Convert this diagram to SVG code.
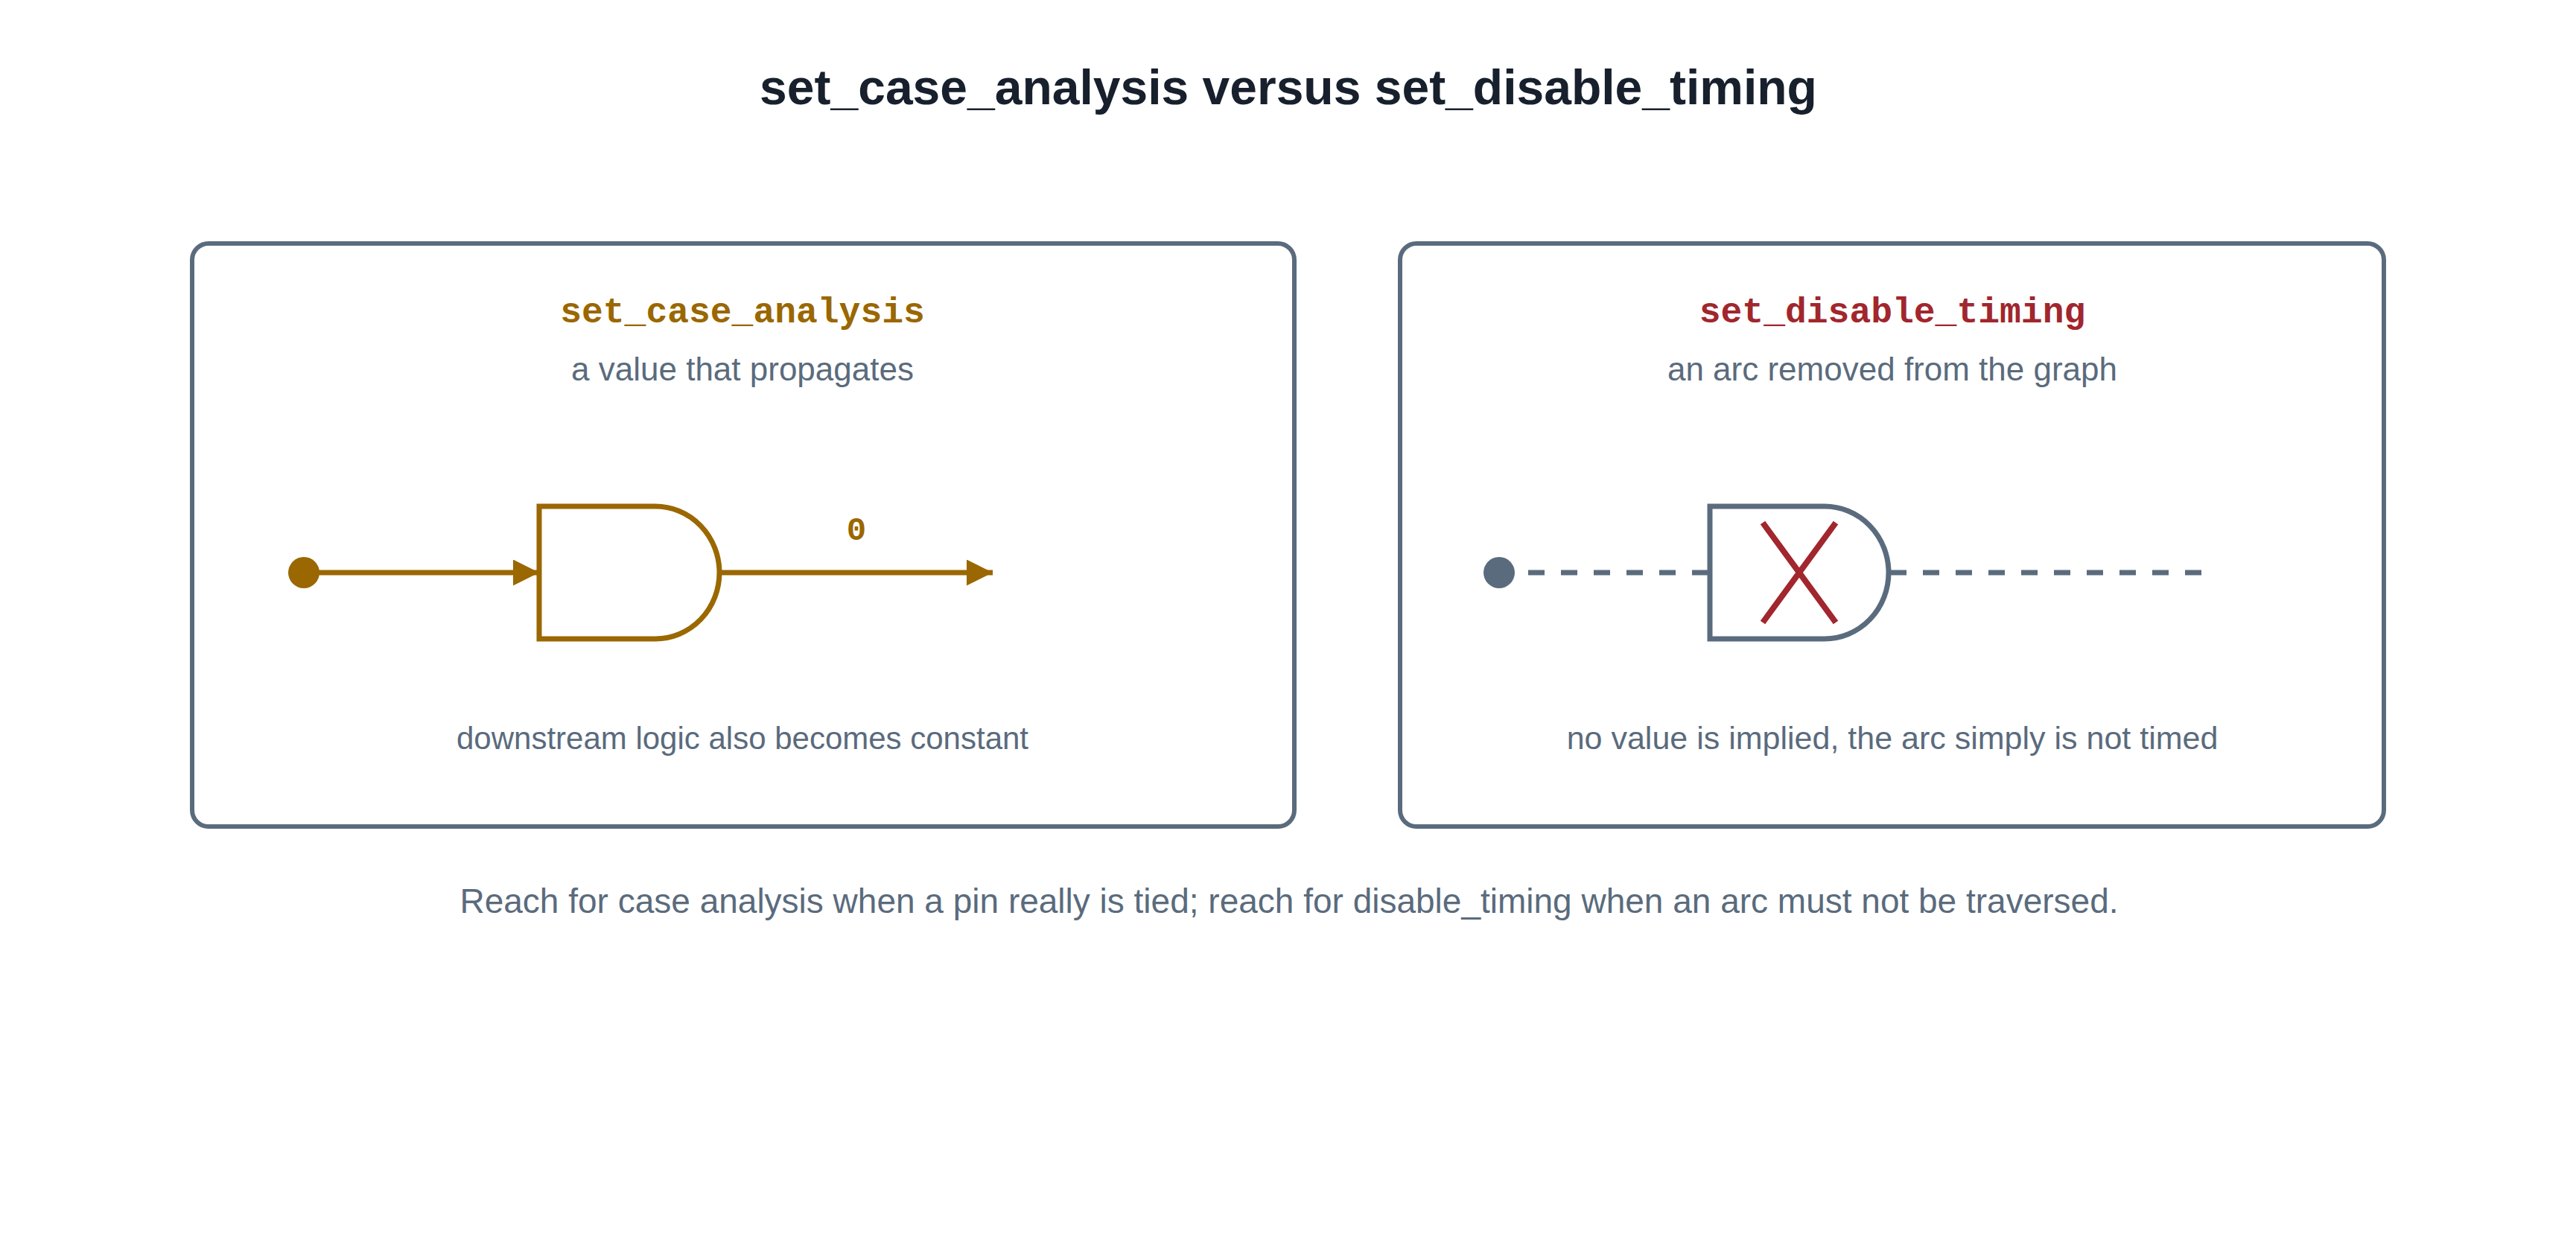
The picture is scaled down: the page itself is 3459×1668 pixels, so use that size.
<svg xmlns="http://www.w3.org/2000/svg" width="3459" height="1668" viewBox="0 0 3459 1668">
<style>
.box{fill:#fff;stroke:#5a6b7d;stroke-width:6}
.sans{font-family:"Liberation Sans",Arial,sans-serif;fill:#5a6b7d;text-anchor:middle}
.mono{font-family:"Liberation Mono","Courier New",monospace;font-weight:bold;text-anchor:middle}
.gold{stroke:#9a6700;stroke-width:7;fill:none}
.grey{stroke:#5a6b7d;stroke-width:7;fill:none}
</style>
<defs>
<marker id="ah" viewBox="0 0 10 10" refX="10" refY="5" markerWidth="5" markerHeight="5" markerUnits="strokeWidth" orient="auto"><path d="M0,0L10,5L0,10Z" fill="#9a6700"/></marker>
</defs>
<rect width="3459" height="1668" fill="#fff"/>
<text x="1730" y="140" font-family="Liberation Sans,Arial,sans-serif" font-weight="bold" font-size="66" fill="#17202c" text-anchor="middle">set_case_analysis versus set_disable_timing</text>
<g id="case">
<rect class="box" x="258" y="327" width="1480" height="783" rx="22"/>
<text class="mono" x="997" y="433" font-size="48" fill="#9a6700">set_case_analysis</text>
<text class="sans" x="997" y="511" font-size="44">a value that propagates</text>
<path class="gold" d="M724,680H880A86 89 0 0 1 880 858H724Z"/>
<circle cx="408" cy="769" r="21" fill="#9a6700"/>
<text class="mono" x="1150" y="725" font-size="44" fill="#9a6700">0</text>
<text class="sans" x="997" y="1006" font-size="42">downstream logic also becomes constant</text>
</g>
<g id="disable">
<rect class="box" x="1880" y="327" width="1321" height="783" rx="22"/>
<text class="mono" x="2541" y="433" font-size="48" fill="#a1262d">set_disable_timing</text>
<text class="sans" x="2541" y="511" font-size="44">an arc removed from the graph</text>
<path class="grey" d="M2296,680H2450A86 89 0 0 1 2450 858H2296Z"/>
<path d="M2367,702L2465,836M2465,702L2367,836" stroke="#a1262d" stroke-width="8"/>
<circle cx="2013" cy="769" r="21" fill="#5a6b7d"/>
<text class="sans" x="2541" y="1006" font-size="43">no value is implied, the arc simply is not timed</text>
</g>
<g id="connectors">
<line class="gold" x1="408" y1="769" x2="724" y2="769" marker-end="url(#ah)"/>
<line class="gold" x1="966" y1="769" x2="1333" y2="769" marker-end="url(#ah)"/>
<line class="grey" x1="2052" y1="769" x2="2296" y2="769" stroke-dasharray="22 22"/>
<line class="grey" x1="2538" y1="769" x2="2958" y2="769" stroke-dasharray="22 22"/>
</g>
<text class="sans" x="1731" y="1226" font-size="46">Reach for case analysis when a pin really is tied; reach for disable_timing when an arc must not be traversed.</text>
</svg>
